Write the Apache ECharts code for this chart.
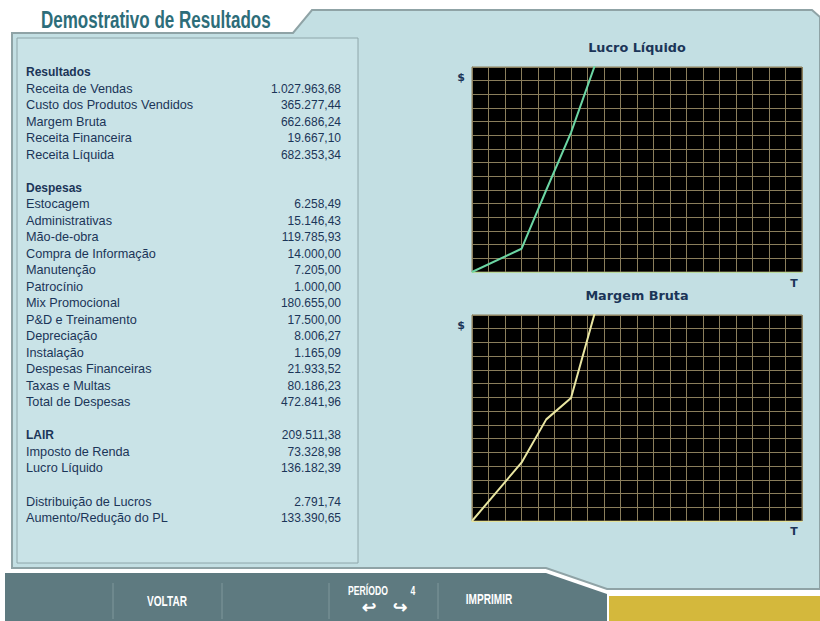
<!DOCTYPE html>
<html><head><meta charset="utf-8">
<script src="https://cdn.jsdelivr.net/npm/echarts@6/dist/echarts.min.js"></script>
<style>html,body{margin:0;padding:0;background:#fff}#c{width:820px;height:621px}</style>
</head><body><div id="c"></div>
<script>
// ---- data ----
var resultadosLabels = ['Receita de Vendas','Custo dos Produtos Vendidos','Margem Bruta','Receita Financeira','Receita Líquida'];
var resultadosValues = ['1.027.963,68','365.277,44','662.686,24','19.667,10','682.353,34'];
var despesasLabels = ['Estocagem','Administrativas','Mão-de-obra','Compra de Informação','Manutenção','Patrocínio','Mix Promocional','P&D e Treinamento','Depreciação','Instalação','Despesas Financeiras','Taxas e Multas','Total de Despesas'];
var despesasValues = ['6.258,49','15.146,43','119.785,93','14.000,00','7.205,00','1.000,00','180.655,00','17.500,00','8.006,27','1.165,09','21.933,52','80.186,23','472.841,96'];
var lairValue = '209.511,38';
var lairLabels = ['Imposto de Renda','Lucro Líquido'];
var lairValues = ['73.328,98','136.182,39'];
var distLabels = ['Distribuição de Lucros','Aumento/Redução do PL'];
var distValues = ['2.791,74','133.390,65'];

var lucroT = [0, 3, 4.5, 6, 7.5];
var lucroV = [0, 1.7, 6.0, 10.2, 15.3];
var margemT = [0, 3, 4.5, 6, 7.5];
var margemV = [0, 4.25, 7.4, 8.95, 15.4];

// ---- build ----
var navy = '#1b3558';
var rowY0 = 72, rowH = 16.52;
var g = [];
g.push({type:'rect', z:-100, shape:{x:0,y:0,width:820,height:621}, style:{fill:'#ffffff'}, silent:true});
g.push({type:'polygon', z:-90, shape:{points:[[12,33],[293,33],[312,10],[812,10],[820,17],[820,589],[607,589],[546,568],[12,568]]},
  style:{fill:'#c3dfe3', stroke:'#8fa3a6', lineWidth:2}, silent:true});
g.push({type:'rect', z:-80, shape:{x:17,y:38,width:341,height:525}, style:{fill:'#c9e3e7', stroke:'#8ea6aa', lineWidth:1}, silent:true});
g.push({type:'polygon', z:-80, shape:{points:[[5,573],[546,573],[607,594],[607,621],[5,621]]}, style:{fill:'#5e7a80'}, silent:true});
g.push({type:'rect', z:-80, shape:{x:609,y:596,width:211,height:25}, style:{fill:'#d4b83c'}, silent:true});
[113,222,329,438].forEach(function(x){
  g.push({type:'line', z:-70, shape:{x1:x,y1:583,x2:x,y2:619}, style:{stroke:'#7f979b', lineWidth:1}, silent:true});
});
g.push({type:'text', z:50, x:41, y:20, scaleX:0.74, style:{text:'Demostrativo de Resultados', fill:'#2d6d79', font:'bold 23px "Liberation Sans", Arial, sans-serif', textAlign:'left', textVerticalAlign:'middle'}});
function barText(t, x, y, size, sx){
  g.push({type:'text', z:50, x:x, y:y, scaleX:sx||0.72, style:{text:t, fill:'#ffffff', font:'bold '+size+'px "Liberation Sans", Arial, sans-serif', textAlign:'center', textVerticalAlign:'middle'}});
}
barText('VOLTAR', 167, 601, 14);
barText('PERÍODO', 368, 591, 12);
barText('4', 413, 591, 12);
barText('↩', 369, 607, 17, 1);
barText('↪', 400, 607, 17, 1);
barText('IMPRIMIR', 489, 599, 14);

function row(idx, label, value, bold){
  var y = rowY0 + idx*rowH;
  g.push({type:'text', z:50, x:26, y:y, style:{text:label, fill:navy, font:(bold?'bold 12px ':'12.7px ')+'"Liberation Sans", Arial, sans-serif', textAlign:'left', textVerticalAlign:'middle'}});
  if (value) g.push({type:'text', z:50, x:341, y:y, style:{text:value, fill:navy, font:'12px "Liberation Sans", Arial, sans-serif', textAlign:'right', textVerticalAlign:'middle'}});
}
var idx = 0;
row(idx++, 'Resultados', null, true);
resultadosLabels.forEach(function(l,i){ row(idx++, l, resultadosValues[i]); });
idx++;
row(idx++, 'Despesas', null, true);
despesasLabels.forEach(function(l,i){ row(idx++, l, despesasValues[i]); });
idx++;
row(idx++, 'LAIR', lairValue, true);
lairLabels.forEach(function(l,i){ row(idx++, l, lairValues[i]); });
idx++;
distLabels.forEach(function(l,i){ row(idx++, l, distValues[i]); });

function lbl(t, x, y, size){
  g.push({type:'text', z:50, x:x, y:y, style:{text:t, fill:navy, font:'bold '+size+'px "DejaVu Sans", Verdana, sans-serif', textAlign:'center', textVerticalAlign:'middle'}});
}
lbl('Lucro Líquido', 637, 47, 12.8);
lbl('Margem Bruta', 637, 295, 12.8);
lbl('$', 461, 77, 11);
lbl('$', 461, 325, 11);
lbl('T', 794, 283, 11);
lbl('T', 794, 531, 11);

var gridColor = '#8a7e5c';
function xA(i, c){ return {type:'value', gridIndex:i, z:3, min:0, max:20, interval:1, axisLabel:{show:false}, axisTick:{show:false},
  axisLine:{show:true, lineStyle:{color:c, width:1}}, splitLine:{show:true, lineStyle:{color:gridColor, width:1}}}; }
function yA(i){ return {type:'value', gridIndex:i, z:3, min:0, max:15, interval:1, axisLabel:{show:false}, axisTick:{show:false},
  axisLine:{show:true, lineStyle:{color:gridColor}}, splitLine:{show:true, lineStyle:{color:gridColor, width:1}}}; }
function pairs(t, v){ return t.map(function(x,i){ return [x, v[i]]; }); }

var chart = echarts.init(document.getElementById('c'), null, {renderer:'svg'});
chart.setOption({
  animation:false,
  graphic:{elements:g},
  grid:[
    {left:472, top:67, width:330, height:205, show:true, backgroundColor:'#000', borderColor:gridColor, borderWidth:1, z:1},
    {left:472, top:315, width:330, height:206, show:true, backgroundColor:'#000', borderColor:gridColor, borderWidth:1, z:1}
  ],
  xAxis:[xA(0,'#b9d99a'), xA(1,'#e3e29a')],
  yAxis:[yA(0), yA(1)],
  series:[
    {type:'line', xAxisIndex:0, yAxisIndex:0, data:pairs(lucroT, lucroV), showSymbol:false, clip:true, lineStyle:{color:'#6cd6a4', width:2}, z:5},
    {type:'line', xAxisIndex:1, yAxisIndex:1, data:pairs(margemT, margemV), showSymbol:false, clip:true, lineStyle:{color:'#e9e6a2', width:2}, z:5}
  ]
});
</script></body></html>
